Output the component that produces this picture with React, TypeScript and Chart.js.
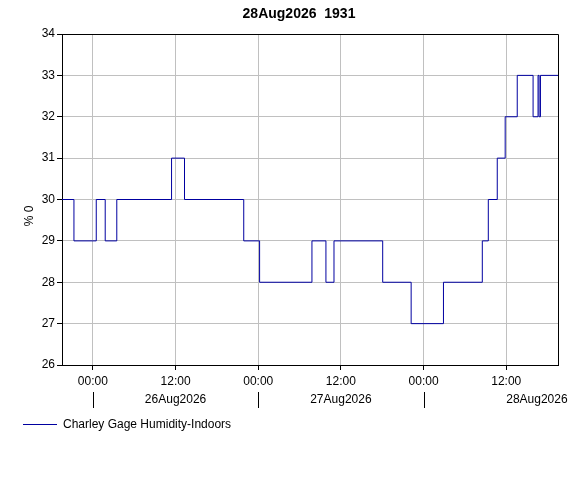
import React, { useEffect, useRef } from 'react';
import { Chart, registerables } from 'chart.js';

Chart.register(...registerables);

const TITLE = '28Aug2026  1931';
const SERIES_LABEL = 'Charley Gage Humidity-Indoors';
const Y_TITLE = '% 0';

// time in hours relative to 26Aug2026 00:00
const X_MIN = -4.483;
const X_MAX = 67.517;
const Y_MIN = 26;
const Y_MAX = 34;

const times = [
  -4.483, -2.75, 0.49, 1.79, 3.47, 11.42, 13.3, 21.9, 24.2, 31.8, 33.83, 35.0,
  42.07, 46.2, 50.89, 56.53, 57.4, 58.7, 59.85, 61.6, 63.9, 64.62, 64.77, 64.97, 67.517,
];
const values = [
  30, 29, 30, 29, 30, 31, 30, 29, 28, 29, 28, 29,
  28, 27, 28, 29, 30, 31, 32, 33, 32, 33, 32, 33, 33,
];

const TIME_TICKS = [0, 12, 24, 36, 48, 60];
const TIME_TICK_LABELS = ['00:00', '12:00', '00:00', '12:00', '00:00', '12:00'];
const DAY_MARKS = [0, 24, 48];
const DATE_LABEL_POS = [12, 36, 60];
const DATE_LABELS = ['26Aug2026', '27Aug2026', '28Aug2026'];

const FONT = '"Liberation Sans", Arial, sans-serif';
const LINE_COLOR = '#0000A0';

const decorPlugin = {
  id: 'decor',
  afterDraw(chart: any) {
    const { ctx, chartArea } = chart;
    const xs = chart.scales.x;
    ctx.save();
    // border top/right
    ctx.strokeStyle = '#000';
    ctx.lineWidth = 1;
    ctx.beginPath();
    ctx.moveTo(chartArea.left, chartArea.top + 0.5);
    ctx.lineTo(chartArea.right + 0.5, chartArea.top + 0.5);
    ctx.lineTo(chartArea.right + 0.5, chartArea.bottom);
    ctx.stroke();

    // title
    ctx.fillStyle = '#000';
    ctx.font = `bold 14px ${FONT}`;
    ctx.textAlign = 'center';
    ctx.textBaseline = 'middle';
    ctx.fillText(TITLE, 299, 14);

    // day separator ticks
    ctx.beginPath();
    DAY_MARKS.forEach((d) => {
      const x = Math.round(xs.getPixelForValue(d)) + 0.5;
      ctx.moveTo(x, 392);
      ctx.lineTo(x, 408);
    });
    ctx.stroke();

    // date labels
    ctx.font = `12px ${FONT}`;
    DATE_LABELS.forEach((lab, i) => {
      const x = xs.getPixelForValue(DATE_LABEL_POS[i]);
      ctx.textAlign = i === DATE_LABELS.length - 1 ? 'left' : 'center';
      ctx.fillText(lab, x, 400);
    });

    // y title
    ctx.save();
    ctx.translate(30, 216);
    ctx.rotate(-Math.PI / 2);
    ctx.textAlign = 'center';
    ctx.fillText(Y_TITLE, 0, 0);
    ctx.restore();

    // legend
    ctx.strokeStyle = LINE_COLOR;
    ctx.beginPath();
    ctx.moveTo(23, 424.5);
    ctx.lineTo(57, 424.5);
    ctx.stroke();
    ctx.fillStyle = '#000';
    ctx.textAlign = 'left';
    ctx.fillText(SERIES_LABEL, 63, 425);
    ctx.restore();
  },
};

export default function App() {
  const ref = useRef<HTMLCanvasElement | null>(null);
  useEffect(() => {
    document.body.style.margin = '0';
    const canvas = ref.current;
    if (!canvas) return;
    const chart = new Chart(canvas, {
      type: 'line',
      data: {
        datasets: [
          {
            label: SERIES_LABEL,
            data: times.map((t, i) => ({ x: t, y: values[i] })),
            borderColor: LINE_COLOR,
            borderWidth: 1,
            pointRadius: 0,
            stepped: 'before',
            fill: false,
          },
        ],
      },
      options: {
        animation: false,
        responsive: false,
        devicePixelRatio: 1,
        layout: { padding: { top: 34, right: 26, left: 0, bottom: 0 } },
        plugins: {
          legend: { display: false },
          title: { display: false },
          tooltip: { enabled: false },
        },
        scales: {
          x: {
            type: 'linear',
            min: X_MIN,
            max: X_MAX,
            afterFit: (s: any) => {
              s.height = 123;
            },
            afterBuildTicks: (s: any) => {
              s.ticks = TIME_TICKS.map((v) => ({ value: v }));
            },
            grid: { color: '#c0c0c0', tickColor: '#000', tickLength: 5 },
            border: { color: '#000' },
            ticks: {
              color: '#000',
              font: { family: FONT, size: 12 },
              padding: 4,
              maxRotation: 0,
              autoSkip: false,
              callback: (_v: any, i: number) => TIME_TICK_LABELS[i],
            },
          },
          y: {
            min: Y_MIN,
            max: Y_MAX,
            afterFit: (s: any) => {
              s.width = 62;
            },
            grid: { color: '#c0c0c0', tickColor: '#000', tickLength: 5 },
            border: { color: '#000' },
            ticks: {
              stepSize: 1,
              color: '#000',
              font: { family: FONT, size: 12 },
              padding: 2,
            },
          },
        },
      },
      plugins: [decorPlugin],
    });
    return () => chart.destroy();
  }, []);
  return <canvas ref={ref} width={584} height={488} style={{ display: 'block' }} />;
}
